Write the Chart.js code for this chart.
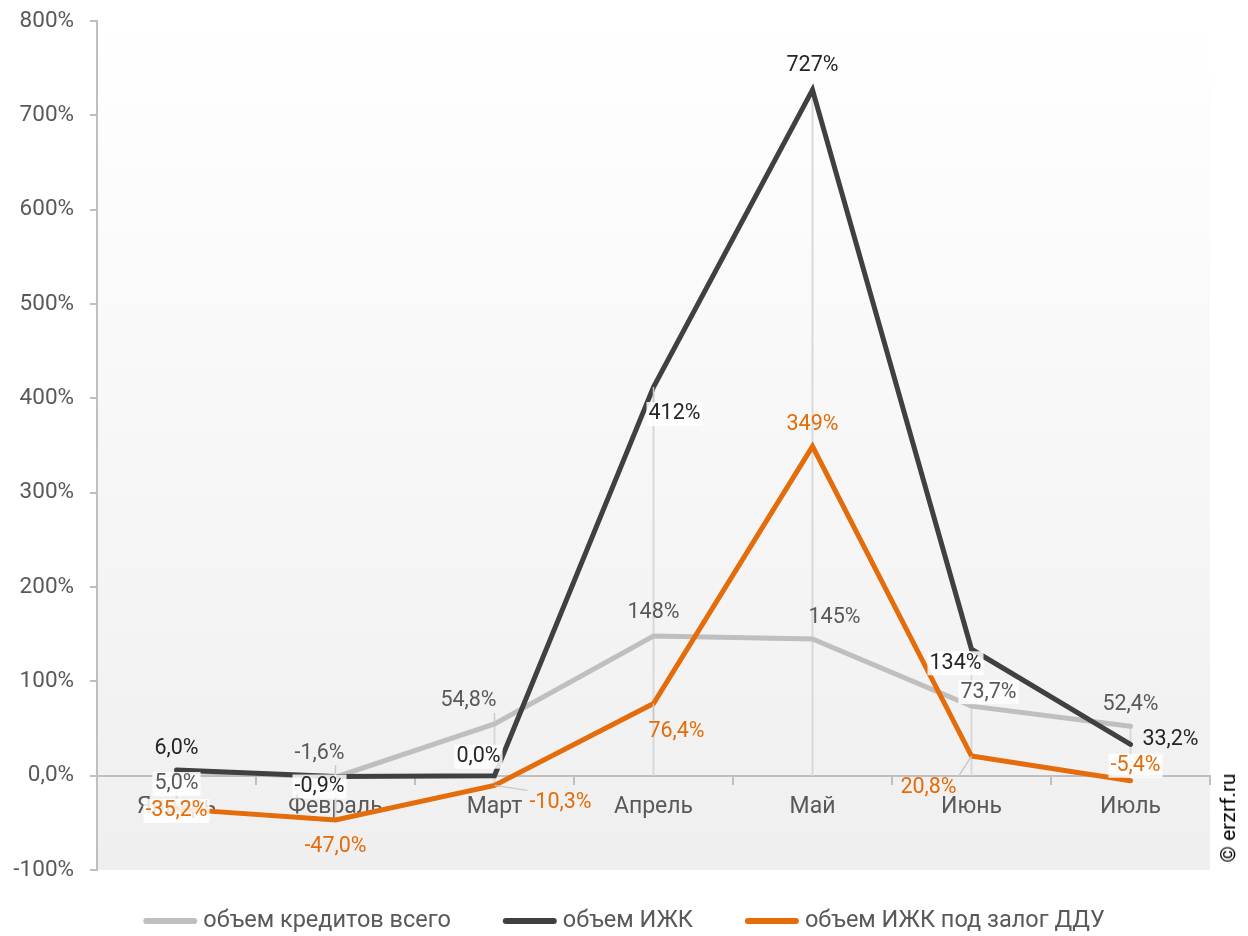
<!DOCTYPE html>
<html>
<head>
<meta charset="utf-8">
<script src="https://cdn.jsdelivr.net/npm/chart.js@4.4.0/dist/chart.umd.min.js"></script>
<style>
  html, body { margin: 0; padding: 0; background: #fff; }
  #wrap { position: relative; width: 1248px; height: 936px; }
  #mark { position: absolute; left: 1228px; top: 818px; transform: translate(-50%, -50%) rotate(-90deg);
          font: 21px Roboto, Arial, sans-serif; color: #000; white-space: nowrap; }
</style>
</head>
<body>
<div id="wrap">
  <canvas id="ChartCredits" width="1248" height="936"></canvas>
  <div id="mark">© erzrf.ru</div>
</div>
<script>
// месяцы и приросты, %
const MONTHS = ['Январь', 'Февраль', 'Март', 'Апрель', 'Май', 'Июнь', 'Июль'];
const CREDITS_TOTAL = [5.0, -1.6, 54.8, 148, 145, 73.7, 52.4];
const IZHK = [6.0, -0.9, 0.0, 412, 727, 134, 33.2];
const IZHK_DDU = [-35.2, -47.0, -10.3, 76.4, 349, 20.8, -5.4];
const Y_TICKS = ['-100%', '0,0%', '100%', '200%', '300%', '400%', '500%', '600%', '700%', '800%'];

// label placement relative to the point: [dx, dy, white box, leader line]
const labelsTotal = [[0, 13, 1, 0], [-16, -24, 0, 1], [-26, -23, 0, 1], [0, -23, 0, 0], [22, -21, 0, 0], [17, -14, 1, 0], [0, -22, 0, 0]];
const labelsIzhk = [[0, -21, 0, 0], [-16, 10, 1, 0], [-16, -19, 1, 0], [21, 27, 1, 1], [0, -24, 0, 0], [-16, 14, 1, 0], [40, -5, 0, 0]];
const labelsDdu = [[0, 2, 1, 0], [0, 27, 0, 0], [66, 17, 0, 1], [23, 28, 0, 1], [0, -22, 0, 0], [-43, 32, 0, 1], [5, -15, 1, 0]];

const FONT = 'Roboto, "Liberation Sans", Arial, sans-serif';

function fmt(v) {
    if (Math.abs(v) >= 100) return Math.round(v) + '%';
    return v.toFixed(1).replace('.', ',') + '%';
}

const decor = {
    id: 'decor',
    beforeDraw: function (chart) {
        const a = chart.chartArea, ctx = chart.ctx;
        const g = ctx.createLinearGradient(0, a.top, 0, a.bottom);
        g.addColorStop(0, '#ffffff');
        g.addColorStop(1, '#efefef');
        ctx.save();
        ctx.fillStyle = g;
        ctx.fillRect(a.left, a.top, a.right - a.left, a.bottom - a.top);
        ctx.restore();
    },
    beforeDatasetsDraw: function (chart) {
        // drop lines
        const ctx = chart.ctx, x = chart.scales.x, y = chart.scales.y;
        ctx.save();
        ctx.strokeStyle = '#d9d9d9';
        ctx.lineWidth = 2;
        MONTHS.forEach(function (m, i) {
            const vals = chart.data.datasets.map(function (d) { return d.data[i]; });
            const hi = Math.max(0, Math.max.apply(null, vals));
            const lo = Math.min(0, Math.min.apply(null, vals));
            ctx.beginPath();
            ctx.moveTo(x.getPixelForValue(i), y.getPixelForValue(hi));
            ctx.lineTo(x.getPixelForValue(i), y.getPixelForValue(lo));
            ctx.stroke();
        });
        ctx.restore();
    },
    afterDatasetsDraw: function (chart) {
        const ctx = chart.ctx, x = chart.scales.x, y = chart.scales.y;
        ctx.save();
        ctx.font = '21.5px ' + FONT;
        ctx.textAlign = 'center';
        ctx.textBaseline = 'middle';
        chart.data.datasets.forEach(function (ds) {
            ds.data.forEach(function (v, i) {
                const px = x.getPixelForValue(i), py = y.getPixelForValue(v);
                const p = ds.labelPlace[i];
                const lx = px + p[0], ly = py + p[1];
                const txt = fmt(v);
                const w = ctx.measureText(txt).width + 4, h = 24;
                if (p[3]) {
                    const nx = Math.max(lx - w / 2, Math.min(px, lx + w / 2));
                    const ny = Math.max(ly - h / 2, Math.min(py, ly + h / 2));
                    ctx.strokeStyle = '#c8c8c8';
                    ctx.lineWidth = 1.5;
                    ctx.beginPath();
                    ctx.moveTo(px, py);
                    ctx.lineTo(nx, ny);
                    ctx.stroke();
                }
                if (p[2]) {
                    ctx.fillStyle = 'rgba(255,255,255,0.85)';
                    ctx.fillRect(lx - w / 2, ly - h / 2, w, h);
                }
                ctx.fillStyle = ds.labelColor;
                ctx.fillText(txt, lx, ly);
            });
        });
        ctx.restore();
    },
    afterDraw: function (chart) {
        // legend at the bottom
        const ctx = chart.ctx;
        const sample = 54, gapText = 6, gapItem = 52, yc = 921;
        ctx.save();
        ctx.font = '23.5px ' + FONT;
        ctx.textBaseline = 'middle';
        ctx.textAlign = 'left';
        const items = chart.data.datasets.map(function (d) {
            return { text: d.label, color: d.borderColor, w: ctx.measureText(d.label).width };
        });
        let total = 0;
        items.forEach(function (it, i) { total += sample + gapText + it.w + (i ? gapItem : 0); });
        let cx = (chart.width - total) / 2;
        items.forEach(function (it) {
            ctx.strokeStyle = it.color;
            ctx.lineWidth = 6;
            ctx.lineCap = 'round';
            ctx.beginPath();
            ctx.moveTo(cx + 3, yc);
            ctx.lineTo(cx + sample - 3, yc);
            ctx.stroke();
            ctx.fillStyle = '#595959';
            ctx.fillText(it.text, cx + sample + gapText, yc);
            cx += sample + gapText + it.w + gapItem;
        });
        ctx.restore();
    }
};

new Chart(document.getElementById('ChartCredits'), {
    type: 'line',
    data: {
        labels: MONTHS,
        datasets: [{
            label: 'объем кредитов всего',
            data: CREDITS_TOTAL,
            borderColor: '#bfbfbf',
            backgroundColor: '#bfbfbf',
            labelColor: '#595959',
            labelPlace: labelsTotal,
            order: 3
        }, {
            label: 'объем ИЖК',
            data: IZHK,
            borderColor: '#404040',
            backgroundColor: '#404040',
            labelColor: '#262626',
            labelPlace: labelsIzhk,
            order: 2
        }, {
            label: 'объем ИЖК под залог ДДУ',
            data: IZHK_DDU,
            borderColor: '#e46c0a',
            backgroundColor: '#e46c0a',
            labelColor: '#e46c0a',
            labelPlace: labelsDdu,
            order: 1
        }]
    },
    options: {
        responsive: false,
        animation: false,
        layout: { padding: { top: 21, right: 38, bottom: 66, left: 0 } },
        elements: {
            line: { borderWidth: 5, tension: 0, borderCapStyle: 'round', fill: false },
            point: { radius: 0, hoverRadius: 0 }
        },
        plugins: {
            legend: { display: false },
            tooltip: { enabled: false }
        },
        scales: {
            x: {
                position: { y: 0 },
                offset: true,
                grid: { offset: true, drawOnChartArea: false, drawTicks: true, tickLength: 8, color: '#bfbfbf', lineWidth: 2 },
                border: { color: '#bfbfbf', width: 2 },
                ticks: { color: '#595959', font: { family: FONT, size: 23 }, padding: 10, maxRotation: 0 }
            },
            y: {
                min: -100,
                max: 800,
                afterFit: function (s) { s.width = 97; s.paddingTop = 0; s.paddingBottom = 0; },
                grid: { drawOnChartArea: false, drawTicks: true, tickLength: 7, color: '#bfbfbf', lineWidth: 2 },
                border: { color: '#bfbfbf', width: 2 },
                ticks: {
                    stepSize: 100,
                    padding: 16,
                    color: '#595959',
                    font: { family: FONT, size: 22.5 },
                    callback: function (v, i) { return Y_TICKS[i]; }
                }
            }
        }
    },
    plugins: [decor]
});
</script>
</body>
</html>
